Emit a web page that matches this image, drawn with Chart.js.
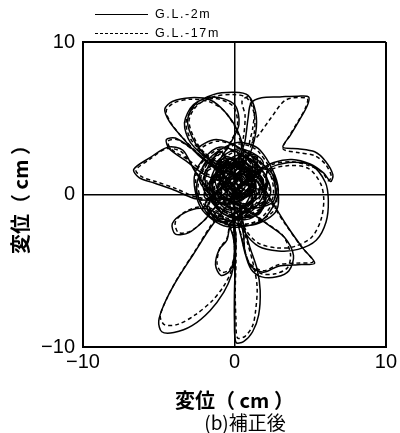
<!DOCTYPE html>
<html>
<head>
<meta charset="utf-8">
<script src="https://cdn.jsdelivr.net/npm/chart.js@4/dist/chart.umd.min.js"></script>
<style>
  html, body { margin: 0; padding: 0; background: #fff; }
  #wrap { position: relative; width: 400px; height: 433px; }
  #c { position: absolute; left: 0; top: 0; }
  .lg { position: absolute; left: 95px; height: 14px; font-family: "Liberation Sans", Arial, sans-serif; font-size: 12.5px; letter-spacing: 1.6px; color: #000; }
  .lg .ln { position: absolute; left: 0; width: 53px; top: 7px; border-top: 1.4px solid #000; }
  .lg .ln.d { border-top: 1.4px dashed #000; }
  .lg .tx { position: absolute; left: 60px; top: 0; white-space: nowrap; line-height: 14px; }
  #cap { position: absolute; left: 145px; width: 200px; top: 411px; text-align: center; font-family: "Noto Sans CJK JP", sans-serif; font-size: 19px; line-height: 22px; color: #000; }
</style>
</head>
<body>
<div id="wrap">
  <canvas id="c" width="400" height="433"></canvas>
  <div class="lg" style="top:7px"><div class="ln"></div><div class="tx" id="l1"></div></div>
  <div class="lg" style="top:26px"><div class="ln d"></div><div class="tx" id="l2"></div></div>
  <div id="cap"></div>
</div>
<script>
const seriesNames = ['G.L.-2m', 'G.L.-17m'];
const tickValues = [-10, 0, 10];
const axisTitle = '変位（ cm ）';
const caption = '(b)補正後';

// G.L.-2m orbit (x, y in cm)
const gl2mPath = [
  [0.2,0.6],[1.6,1.5],[-0.8,2.3],[-1.6,0.1],[0.9,-1.2],[2.2,0.9],[0.4,2.6],[-1.3,1.2],[-0.2,-0.9],[1.4,-0.3],[0.7,1.9],[-1.9,1.6],[-1.1,-1.0],[1.0,-1.6],[2.4,0.2],[1.1,2.3],[-0.6,1.0],[0.5,-0.4],[-0.9,2.8],[-2.1,0.6],[-0.3,-1.5],[1.9,-0.9],[1.7,1.2],[-0.1,0.3],[0.6,2.0],[-1.4,-0.4],[0.2,-1.2],[1.3,0.8],
  [0.3,2.0],[0.7,3.5],[0.9,5.0],[1.1,6.0],[1.8,6.35],[3.0,6.4],[4.2,6.45],[4.9,6.4],[4.8,5.8],[4.3,4.9],[3.7,3.9],[3.2,3.1],[4.2,3.0],[5.3,2.8],[6.0,2.2],[6.5,1.3],[6.35,0.85],[5.9,1.4],[5.0,2.0],[3.8,2.3],[2.6,2.1],[1.5,1.5],[0.6,0.8],
  [-0.4,1.7],[-1.7,2.3],[-2.3,0.9],[-1.0,-0.3],[0.8,0.2],[1.9,2.1],[0.3,3.0],[-1.2,2.0],[-0.5,0.1],[0.9,-0.9],[2.6,-0.4],[2.3,1.6],[0.0,1.1],[-1.8,-0.8],[-0.6,-1.8],[1.2,-0.6],[0.4,1.3],[-0.8,0.5],
  [-1.5,0.2],[-2.6,1.5],[-3.4,2.9],[-4.4,3.1],[-5.6,2.4],[-6.65,1.65],[-6.3,1.1],[-5.3,0.75],[-4.0,0.3],[-2.5,-0.3],[-1.2,-0.3],[-0.3,0.4],
  [0.4,1.3],[0.6,2.8],[0.2,4.2],[-0.6,5.4],[-1.6,6.2],[-2.9,6.35],[-4.1,6.1],[-4.6,5.6],[-4.3,4.8],[-3.5,3.8],[-2.4,2.6],[-1.3,1.7],[-0.5,1.0],
  [0.6,-0.2],[1.5,2.5],[-0.2,2.2],[-1.0,0.9],[0.1,-0.3],[1.3,1.2],[0.2,2.0],
  [-1.6,2.3],[-2.9,3.4],[-3.3,4.7],[-2.7,5.9],[-1.4,6.4],[0.0,5.9],[0.3,4.6],[-0.3,3.3],[-1.0,2.1],[-0.6,0.9],
  [-1.8,1.2],[-3.2,2.2],[-4.3,3.0],[-4.5,3.6],[-3.9,3.7],[-2.8,3.0],[-1.4,1.9],[0.0,1.3],
  [0.9,2.4],[1.4,4.0],[1.4,5.4],[0.9,6.5],[0.0,6.7],[-1.4,6.55],[-2.6,5.9],[-3.1,4.8],[-2.6,3.4],[-1.6,2.2],[-0.7,1.2],
  [-1.5,1.0],[-0.8,-1.2],[1.6,-1.3],[2.0,0.6],[0.8,1.6],[-0.7,1.9],[-2.0,-0.1],[-0.2,-0.6],[1.0,0.4],[-0.3,1.4],[0.5,0.8],[2.0,0.3],
  [2.2,1.6],[3.6,2.1],[5.1,1.9],[6.0,0.8],[6.2,-0.4],[6.05,-1.8],[5.4,-3.0],[4.2,-3.6],[2.9,-3.7],[1.6,-3.4],[0.7,-2.5],[0.2,-1.3],[-0.2,-0.2],
  [0.4,0.9],[-2.4,2.9],[-1.2,3.6],[0.6,2.9],[2.6,1.2],[2.8,-1.0],[1.2,-2.0],[-1.4,-1.6],[-2.5,0.3],[-1.8,2.2],[0.1,3.4],[1.7,2.9],[2.9,0.3],[1.8,-1.7],[-0.5,-2.1],[-2.2,-0.9],[-2.6,1.4],[-1.0,3.1],[1.2,2.0],[0.5,0.6],
  [-0.6,-0.9],[-1.6,-2.2],[-2.7,-3.9],[-3.8,-5.6],[-4.6,-7.1],[-5.0,-8.3],[-4.8,-9.0],[-4.0,-9.05],[-2.8,-8.6],[-1.6,-7.6],[-0.7,-6.4],[-0.2,-5.3],[0.0,-4.2],[0.0,-3.0],[-0.1,-1.6],[-0.3,-0.4],
  [0.3,-0.2],[-1.2,1.5],[0.9,2.7],[1.8,0.1],[-0.4,-1.0],[-1.6,0.7],[0.2,1.8],[1.2,-0.1],[0.0,0.7],[-1.9,-0.5],[-1.3,-1.4],[0.0,-1.7],[1.1,-1.2],
  [0.0,-1.2],[0.1,-2.8],[0.05,-4.6],[0.0,-6.5],[0.0,-8.3],[0.1,-9.7],[0.6,-9.65],[1.2,-9.0],[1.6,-7.9],[1.7,-6.3],[1.5,-4.9],[1.0,-3.4],[0.6,-2.0],[0.4,-0.6],
  [0.1,0.4],[0.9,0.0],[1.1,1.0],[0.2,1.4],[-0.6,0.7],[-0.2,-0.2],[0.7,0.5],[0.3,1.1],[-0.4,0.3],[0.5,-0.3],[1.3,0.4],[0.6,1.3],[-0.3,1.0],
  [-0.9,1.6],[0.6,2.2],[1.5,1.2],[2.5,-0.5],[3.5,-2.1],[4.5,-3.5],[5.3,-4.5],[4.2,-4.6],[2.9,-4.7],[1.9,-5.1],[1.0,-4.6],[0.5,-3.0],[0.3,-1.4],
  [2.1,-0.2],[-0.5,2.5],[-1.4,0.3],[0.8,-1.0],
  [2.1,-1.9],[3.3,-2.8],[3.9,-4.0],[3.6,-5.0],[2.8,-5.4],[1.8,-5.4],[1.1,-4.9],[0.7,-3.8],[0.5,-2.2],
  [-0.2,-1.8],[-0.5,-3.0],[-1.0,-3.6],[-1.25,-4.6],[-0.9,-5.3],[-0.3,-5.0],[0.0,-3.9],[-0.2,-2.4],[-1.0,-1.3],[-2.2,-0.9],[-3.3,-1.2],[-4.1,-1.9],[-3.9,-2.6],[-3.0,-2.5],[-2.0,-1.7],[-1.0,-0.6],
  [1.4,0.3],[0.4,2.4],[-1.1,0.4],[0.7,-0.7],[1.9,1.0],[-0.3,1.9],[-0.8,-0.2],[1.0,0.9],[0.2,0.5]
];

// G.L.-17m orbit (x, y in cm)
const gl17mPath = [
  [0.3,0.5],[1.5,1.6],[-0.7,2.2],[-1.5,0.2],[0.8,-1.1],[2.1,1.0],[0.5,2.5],[-1.2,1.3],[-0.1,-0.8],[1.3,-0.2],[0.6,1.8],[-1.8,1.5],[-1.0,-0.9],[1.1,-1.5],[2.3,0.3],[1.0,2.2],[-0.5,0.9],[0.6,-0.3],[-0.8,2.7],[-2.0,0.7],[-0.2,-1.4],[1.8,-0.8],[1.6,1.3],[0.0,0.4],
  [0.2,2.2],[0.6,3.8],[0.7,5.2],[0.5,6.1],[0.9,6.4],[1.3,5.6],[1.2,4.3],[1.0,3.3],[1.6,3.9],[2.4,5.0],[3.4,6.2],[4.8,6.3],[4.7,5.7],[4.2,4.8],[3.6,3.8],[3.2,3.0],[4.2,2.75],[5.3,2.55],[6.0,2.0],[6.4,1.2],[6.2,0.9],[5.8,1.45],[4.9,1.9],[3.8,2.15],[2.6,2.0],[1.5,1.4],[0.6,0.7],
  [-0.3,1.8],[-1.6,2.2],[-2.2,1.0],[-0.9,-0.2],[0.9,0.3],[1.8,2.0],[0.4,2.9],[-1.1,1.9],[-0.4,0.2],[1.0,-0.8],[2.5,-0.3],[2.2,1.5],[0.1,1.0],[-1.7,-0.7],[-0.5,-1.7],[1.1,-0.5],[0.3,1.2],
  [-1.6,0.3],[-2.6,1.6],[-3.5,2.8],[-4.5,3.0],[-5.6,2.3],[-6.5,1.6],[-6.1,1.15],[-5.2,0.85],[-3.9,0.4],[-2.4,-0.2],[-1.1,-0.2],[-0.2,0.5],
  [0.3,1.4],[0.5,2.9],[0.1,4.3],[-0.7,5.5],[-1.7,6.1],[-2.9,6.25],[-4.0,6.0],[-4.5,5.5],[-4.2,4.7],[-3.4,3.7],[-2.3,2.6],[-1.2,1.7],[-0.4,1.0],
  [0.7,-0.1],[1.4,2.4],[-0.1,2.1],[-0.9,0.8],[0.2,-0.2],[1.2,1.1],
  [-1.5,2.4],[-2.8,3.5],[-3.2,4.7],[-2.6,5.8],[-1.4,6.3],[-0.1,5.8],[0.2,4.5],[-0.4,3.2],[-1.0,2.0],[-0.5,0.9],
  [-1.7,1.3],[-3.1,2.3],[-4.2,3.0],[-4.4,3.5],[-3.8,3.6],[-2.7,2.9],[-1.3,1.8],[0.1,1.2],
  [0.8,2.4],[1.3,4.0],[1.3,5.3],[0.8,6.35],[-0.1,6.55],[-1.4,6.4],[-2.5,5.8],[-3.0,4.8],[-2.5,3.4],[-1.5,2.2],[-0.6,1.1],
  [-1.4,0.9],[-0.7,-1.1],[1.5,-1.2],[1.9,0.7],[0.7,1.5],[-0.6,1.8],[-1.9,0.0],[-0.1,-0.5],[1.1,0.5],[2.0,0.4],
  [2.2,1.5],[3.6,1.9],[4.9,1.7],[5.7,0.7],[5.9,-0.4],[5.7,-1.7],[5.1,-2.8],[4.0,-3.4],[2.8,-3.5],[1.6,-3.2],[0.8,-2.4],[0.3,-1.2],[-0.1,-0.1],
  [0.5,0.8],[-2.3,2.8],[-1.1,3.5],[0.7,2.8],[2.5,1.1],[2.7,-0.9],[1.1,-1.9],[-1.3,-1.5],[-2.4,0.4],[-1.7,2.1],[0.2,3.3],[1.6,2.8],[2.8,0.4],[1.7,-1.6],[-0.4,-2.0],[-2.1,-0.8],[-2.5,1.5],[-0.9,3.0],[1.1,1.9],
  [-0.6,-0.8],[-1.6,-2.1],[-2.6,-3.7],[-3.7,-5.4],[-4.5,-6.9],[-4.9,-8.0],[-4.6,-8.55],[-3.7,-8.5],[-2.6,-7.9],[-1.5,-7.0],[-0.7,-6.0],[-0.2,-5.0],[0.0,-4.0],[0.0,-2.9],[-0.1,-1.5],[-0.3,-0.3],
  [0.4,-0.1],[-1.1,1.4],[0.8,2.6],[1.7,0.2],[-0.3,-0.9],[-1.5,0.8],[0.3,1.7],[1.1,0.0],[-1.8,-0.4],[-1.2,-1.3],[0.1,-1.6],[1.0,-1.1],
  [0.0,-1.1],[0.1,-2.7],[0.1,-4.5],[0.05,-6.4],[0.1,-8.2],[0.2,-9.4],[0.7,-9.3],[1.2,-8.6],[1.4,-7.6],[1.5,-6.1],[1.3,-4.8],[0.9,-3.3],[0.5,-1.9],[0.3,-0.5],
  [0.2,0.5],[1.0,0.1],[1.0,1.1],[0.1,1.3],[-0.5,0.6],[-0.1,-0.1],[0.8,0.6],[0.2,1.0],[-0.3,0.2],[0.6,-0.2],[1.2,0.5],[0.5,1.2],
  [-0.8,1.5],[0.6,2.1],[1.4,1.1],[2.4,-0.5],[3.4,-2.0],[4.4,-3.4],[5.2,-4.4],[4.1,-4.5],[2.9,-4.6],[1.9,-5.0],[1.0,-4.5],[0.5,-2.9],[0.3,-1.3],
  [2.0,-0.1],[-0.4,2.4],[-1.3,0.4],[0.8,-0.9],
  [2.0,-1.8],[3.2,-2.7],[3.7,-3.9],[3.5,-4.8],[2.7,-5.2],[1.8,-5.2],[1.1,-4.7],[0.7,-3.7],[0.5,-2.1],
  [-0.2,-1.7],[-0.5,-2.9],[-0.95,-3.5],[-1.15,-4.5],[-0.85,-5.1],[-0.3,-4.9],[0.0,-3.8],[-0.2,-2.3],[-1.0,-1.2],[-2.1,-0.8],[-3.2,-1.1],[-3.9,-1.8],[-3.7,-2.5],[-2.9,-2.4],[-1.9,-1.6],[-0.9,-0.5],
  [1.3,0.4],[0.5,2.3],[-1.0,0.5],[0.8,-0.6],[1.8,1.1],[-0.2,1.8],[0.3,0.4]
];

document.getElementById('l1').textContent = seriesNames[0];
document.getElementById('l2').textContent = seriesNames[1];
document.getElementById('cap').textContent = caption;

const toXY = p => p.map(([x, y]) => ({x, y}));
const tickFont = { family: "'Liberation Sans', Arial, sans-serif", size: 20 };
const cjkFont = { family: "'Noto Sans CJK JP', sans-serif", size: 20, weight: 'bold' };
const fmt = v => (v < 0 ? '\u2212' + Math.abs(v) : String(v));
const gridOpts = {
  color: '#000',
  lineWidth: ctx => (ctx.tick && ctx.tick.value === 0 ? 1.5 : 2),
  drawTicks: false
};

new Chart(document.getElementById('c'), {
  type: 'scatter',
  data: {
    datasets: [
      { label: seriesNames[0], data: toXY(gl2mPath), showLine: true, borderColor: '#000', borderWidth: 1.5, pointRadius: 0, tension: 0.3, fill: false },
      { label: seriesNames[1], data: toXY(gl17mPath), showLine: true, borderColor: '#000', borderWidth: 1.5, borderDash: [4, 3], pointRadius: 0, tension: 0.3, fill: false }
    ]
  },
  options: {
    responsive: false,
    animation: false,
    devicePixelRatio: 1,
    layout: { padding: { top: 42, right: 13, bottom: 21, left: 4 } },
    scales: {
      x: {
        type: 'linear', min: -10, max: 10,
        afterBuildTicks: s => { s.ticks = tickValues.map(v => ({ value: v })); },
        afterFit: s => { s.height = 65; },
        ticks: { color: '#000', font: tickFont, padding: 3, maxRotation: 0, callback: fmt },
        grid: gridOpts,
        border: { display: true, color: '#000', width: 2 },
        title: { display: true, text: axisTitle, color: '#000', font: cjkFont, padding: { top: 16, bottom: 0 } }
      },
      y: {
        type: 'linear', min: -10, max: 10,
        afterBuildTicks: s => { s.ticks = tickValues.map(v => ({ value: v })); },
        afterFit: s => { s.width = 79; },
        ticks: { color: '#000', font: tickFont, padding: 8, callback: fmt },
        grid: gridOpts,
        border: { display: true, color: '#000', width: 2 },
        title: { display: true, text: axisTitle, color: '#000', font: cjkFont, padding: { top: 4, bottom: 9 } }
      }
    },
    plugins: {
      legend: { display: false },
      tooltip: { enabled: false },
      title: { display: false }
    }
  }
});
</script>
</body>
</html>
